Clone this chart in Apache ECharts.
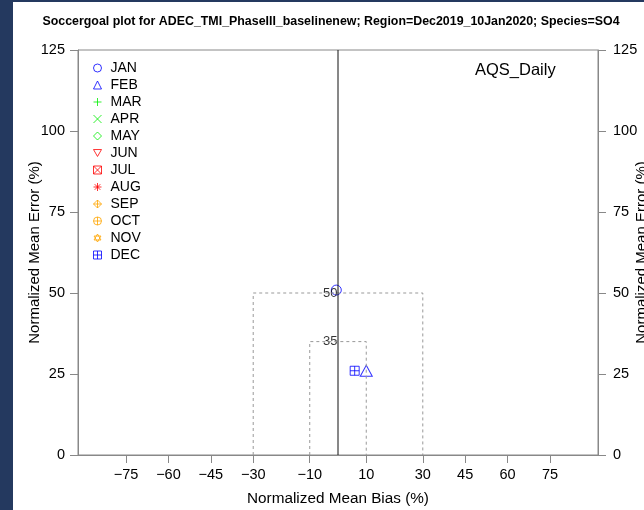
<!DOCTYPE html>
<html><head><meta charset="utf-8">
<script src="https://cdn.jsdelivr.net/npm/echarts@6/dist/echarts.min.js"></script>
<style>
html,body{margin:0;padding:0;background:#24395f;width:644px;height:510px;overflow:hidden}
#c{position:absolute;left:13px;top:2px;width:631px;height:508px;background:#fff}
</style></head><body><div id="c"></div>
<script>
const months = ['JAN','FEB','MAR','APR','MAY','JUN','JUL','AUG','SEP','OCT','NOV','DEC'];
const monthColors = ['#0000ff','#0000ff','#00ee00','#00ee00','#00ee00','#ff0000','#ff0000','#ff0000','#ffa500','#ffa500','#ffa500','#0000ff'];
const monthSymbols = [
  'circle',
  'triangle',
  'path://M5 0L5 10M0 5L10 5',
  'path://M0 0L10 10M0 10L10 0',
  'diamond',
  'path://M0 0L10 0L5 8.66Z',
  'path://M0 0L10 0L10 10L0 10ZM0 0L10 10M10 0L0 10',
  'path://M5 0L5 10M0 5L10 5M1.5 1.5L8.5 8.5M1.5 8.5L8.5 1.5',
  'path://M5 0L10 5L5 10L0 5ZM5 0L5 10M0 5L10 5',
  'path://M0 5A5 5 0 1 0 10 5A5 5 0 1 0 0 5ZM5 0L5 10M0 5L10 5',
  'path://M5 0L9.33 7.5L0.67 7.5ZM5 10L0.67 2.5L9.33 2.5Z',
  'path://M0 0L10 0L10 10L0 10ZM5 0L5 10M0 5L10 5'
];
const monthSizes = [10, [12,11], 10, 10, 10, 10, 10, 10, 10, 10, 10, 9];
const janPoints = [[-0.6, 50.9]];
const febPoints = [[10.0, 26.0]];
const decPoints = [[5.9, 26.0]];
const monthData = {JAN: janPoints, FEB: febPoints, DEC: decPoints};
const xTickValues = [-75,-60,-45,-30,-10,10,30,45,60,75];
const outerGoal = [[-30,0],[-30,50],[30,50],[30,0]];
const innerGoal = [[-10,0],[-10,35],[10,35],[10,0]];
const goalLabels = [[0,50],[0,35]];
const zeroLine = [[0,0],[0,125]];

const FONT = "'Liberation Sans', Arial, Helvetica, sans-serif";
const AX = '#888888';

const chart = echarts.init(document.getElementById('c'), null, {renderer: 'canvas'});

const series = [];
series.push({
  type: 'line', data: outerGoal, symbol: 'none', silent: true, animation: false,
  lineStyle: {color: '#999', width: 1, type: [3, 3]}
});
series.push({
  type: 'line', data: innerGoal, symbol: 'none', silent: true, animation: false,
  lineStyle: {color: '#999', width: 1, type: [3, 3]}
});
series.push({
  type: 'line', data: zeroLine, symbol: 'none', silent: true, animation: false,
  lineStyle: {color: '#111', width: 1}
});
series.push({
  type: 'scatter', data: goalLabels, symbol: 'circle', symbolSize: 1, silent: true, animation: false,
  itemStyle: {color: 'rgba(0,0,0,0)'},
  label: {show: true, position: 'left', distance: 0, color: '#000', fontFamily: FONT, fontSize: 13,
          formatter: p => String(p.value[1])}
});
months.forEach((m, i) => {
  series.push({
    name: m, type: 'scatter', data: monthData[m] || [],
    symbol: monthSymbols[i], symbolSize: monthSizes[i], animation: false,
    itemStyle: {color: 'none', borderColor: monthColors[i], borderWidth: 1}
  });
});

chart.setOption({
  backgroundColor: '#fff',
  animation: false,
  textStyle: {fontFamily: FONT},
  title: [
    {text: 'Soccergoal plot for ADEC_TMI_PhaseIII_baselinenew; Region=Dec2019_10Jan2020; Species=SO4',
     left: 313, top: 9, textAlign: 'center',
     textStyle: {fontFamily: FONT, fontSize: 12.4, fontWeight: 'bold', color: '#000'}},
    {text: 'AQS_Daily', left: 457, top: 55,
     textStyle: {fontFamily: FONT, fontSize: 16.5, fontWeight: 'normal', color: '#000'}}
  ],
  grid: {left: 65, right: 46, top: 48, bottom: 55, show: true, borderColor: AX, borderWidth: 1,
         containLabel: false, outerBoundsMode: 'none'},
  legend: {
    orient: 'vertical', left: 73, top: 54, padding: 5, itemWidth: 8, itemHeight: 8, itemGap: 3,
    textStyle: {fontFamily: FONT, fontSize: 14, color: '#000', padding: [0,0,0,4]},
    data: months.map((m, i) => ({
      name: m, icon: monthSymbols[i],
      itemStyle: {color: 'none', borderColor: monthColors[i], borderWidth: 1}
    })),
    selectedMode: false
  },
  xAxis: {
    type: 'value', min: -92, max: 92,
    name: 'Normalized Mean Bias (%)', nameLocation: 'middle', nameGap: 36, nameMoveOverlap: false,
    nameTextStyle: {fontFamily: FONT, fontSize: 15.3, color: '#000'},
    axisLine: {show: true, onZero: false, lineStyle: {color: AX}},
    axisTick: {show: true, length: 8, lineStyle: {color: AX}, customValues: xTickValues},
    axisLabel: {fontFamily: FONT, fontSize: 14.5, color: '#000', margin: 12, customValues: xTickValues,
                formatter: v => String(v).replace('-', '\u2212')},
    splitLine: {show: false}
  },
  yAxis: [
    {type: 'value', min: 0, max: 125, interval: 25, position: 'left',
     name: 'Normalized Mean Error (%)', nameLocation: 'middle', nameGap: 36, nameMoveOverlap: false,
     nameTextStyle: {fontFamily: FONT, fontSize: 15, color: '#000'},
     axisLine: {show: true, onZero: false, lineStyle: {color: AX}},
     axisTick: {show: true, length: 8, lineStyle: {color: AX}},
     axisLabel: {fontFamily: FONT, fontSize: 14.5, color: '#000', margin: 13},
     splitLine: {show: false}},
    {type: 'value', min: 0, max: 125, interval: 25, position: 'right',
     name: 'Normalized Mean Error (%)', nameLocation: 'middle', nameGap: 36, nameMoveOverlap: false,
     nameTextStyle: {fontFamily: FONT, fontSize: 15, color: '#000'},
     axisLine: {show: true, onZero: false, lineStyle: {color: AX}},
     axisTick: {show: true, length: 8, lineStyle: {color: AX}},
     axisLabel: {fontFamily: FONT, fontSize: 14.5, color: '#000', margin: 15},
     splitLine: {show: false}}
  ],
  series: series
});
</script></body></html>
